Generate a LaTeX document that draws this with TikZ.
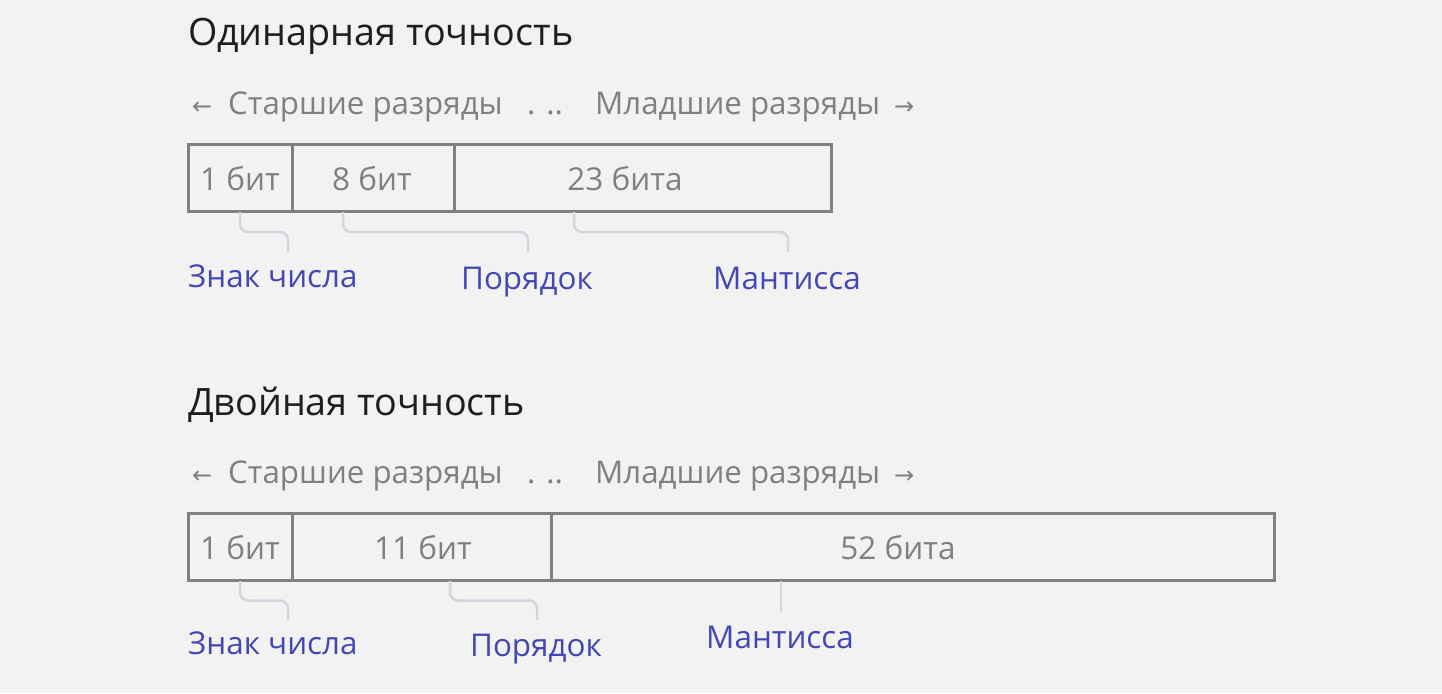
\documentclass[tikz,border=0pt]{standalone}
\usepackage{fontspec}
\setmainfont{Open Sans}
\newfontfamily\symfont{DejaVu Sans}
\usetikzlibrary{calc}
\definecolor{bg}{HTML}{F2F2F2}
\definecolor{ttl}{HTML}{1E1E1E}
\definecolor{gtxt}{HTML}{808080}
\definecolor{boxc}{HTML}{808080}
\definecolor{conn}{HTML}{D3D6DE}
\definecolor{lbl}{HTML}{4347B5}
\begin{document}
\begin{tikzpicture}[x=1pt,y=-1pt,
  title/.style={font=\fontsize{37.7}{44}\selectfont, text=ttl, inner sep=0, anchor=base west},
  sub/.style={font=\fontsize{31.3}{36}\selectfont, text=gtxt, inner sep=0, anchor=base west},
  arr/.style={font=\symfont\fontsize{24}{28}\selectfont, text=gtxt, inner sep=0, anchor=base west},
  cell/.style={draw=boxc, line width=3pt, minimum height=67pt, inner sep=0},
  celltxt/.style={font=\fontsize{31.5}{36}\selectfont, text=gtxt, inner sep=0, anchor=base},
  lab/.style={font=\fontsize{31.4}{36}\selectfont, text=lbl, inner sep=0, anchor=base},
  connector/.style={draw=conn, line width=2.5pt, rounded corners=8pt}]
\fill[bg] (0,0) rectangle (1442,693);
\useasboundingbox (0,0) rectangle (1442,693);

% ---------- single precision ----------
\node[title] (t1) at (188,46) {Одинарная точность};
\node[arr] (l1) at (192,114) {←};
\node[sub] (s1a) at (228,114) {Старшие разряды};
\node[sub] (s1b) at (527,114) {. ..};
\node[sub] (s1c) at (595,114) {Младшие разряды};
\node[arr] (r1) at (894,114) {→};

\node[cell, minimum width=104pt] (a1) at (240,177.5) {};
\node[cell, minimum width=162pt] (a2) at (373,177.5) {};
\node[cell, minimum width=377pt] (a3) at (642.5,177.5) {};
\node[celltxt] (a1t) at (240,190) {1 бит};
\node[celltxt] (a2t) at (372,190) {8 бит};
\node[celltxt] (a3t) at (625,190) {23 бита};

\node[lab, anchor=base west] (z1) at (188,287) {Знак числа};
\node[lab] (p1) at (527,289) {Порядок};
\node[lab] (m1) at (787,289) {Мантисса};

\coordinate (k1s) at (240,212); \coordinate (k1e) at (288,252);
\coordinate (k2s) at (343,212); \coordinate (k2e) at (528,252);
\coordinate (k3s) at (574,212); \coordinate (k3e) at (788,252);
\draw[connector] (k1s) |- ($(k1s)!0.5!(k1e)$) -| (k1e);
\draw[connector] (k2s) |- ($(k2s)!0.5!(k2e)$) -| (k2e);
\draw[connector] (k3s) |- ($(k3s)!0.5!(k3e)$) -| (k3e);

% ---------- double precision ----------
\node[title] (t2) at (188,415) {Двойная точность};
\node[arr] (l2) at (192,483) {←};
\node[sub] (s2a) at (228,483) {Старшие разряды};
\node[sub] (s2b) at (527,483) {. ..};
\node[sub] (s2c) at (595,483) {Младшие разряды};
\node[arr] (r2) at (894,483) {→};

\node[cell, minimum width=104pt] (b1) at (240,546.5) {};
\node[cell, minimum width=259pt] (b2) at (421.5,546.5) {};
\node[cell, minimum width=723pt] (b3) at (912.5,546.5) {};
\node[celltxt] (b1t) at (240,559) {1 бит};
\node[celltxt] (b2t) at (423,559) {11 бит};
\node[celltxt] (b3t) at (898,559) {52 бита};

\node[lab, anchor=base west] (z2) at (188,654) {Знак числа};
\node[lab] (p2) at (536,656) {Порядок};
\node[lab] (m2) at (780,648) {Мантисса};

\coordinate (q1s) at (240,581); \coordinate (q1e) at (288,620);
\coordinate (q2s) at (450,581); \coordinate (q2e) at (537,620);
\coordinate (q3s) at (781,581); \coordinate (q3e) at (781,612);
\draw[connector] (q1s) |- ($(q1s)!0.5!(q1e)$) -| (q1e);
\draw[connector] (q2s) |- ($(q2s)!0.5!(q2e)$) -| (q2e);
\draw[connector] (q3s) -- (q3e);
\end{tikzpicture}
\end{document}
